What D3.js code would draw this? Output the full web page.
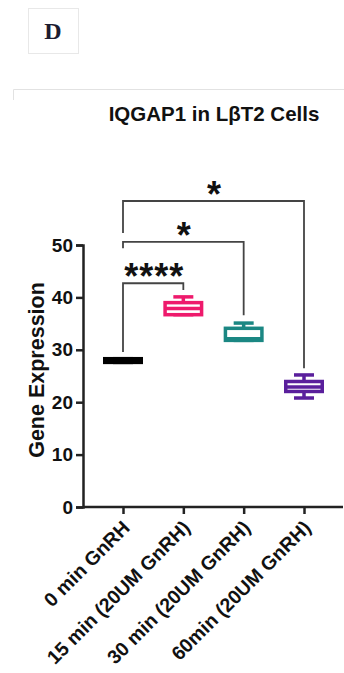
<!DOCTYPE html>
<html>
<head>
<meta charset="utf-8">
<script src="https://cdn.jsdelivr.net/npm/d3@7"></script>
<style>
  body { margin: 0; background: #fff; }
  svg { display: block; font-family: "Liberation Sans", Arial, sans-serif; }
</style>
</head>
<body>
<div id="chart"></div>
<script>
// data
const categories = ["0 min GnRH", "15 min (20UM GnRH)", "30 min (20UM GnRH)", "60min (20UM GnRH)"];
const whiskerLow = [27.6, 36.7, 31.8, 20.8];
const q1 = [27.6, 36.7, 31.8, 22.05];
const median = [28.0, 37.9, 32.1, 22.9];
const q3 = [28.3, 39.0, 34.1, 23.95];
const whiskerHigh = [28.3, 40.1, 35.1, 25.2];
const colors = ["#000000", "#ee1a6c", "#1b8783", "#5a1f9c"];
const yTicks = [0, 10, 20, 30, 40, 50];

// significance brackets (value units)
const comparisons = [[0, 1], [0, 2], [0, 3]];
const sigLabels = ["****", "*", "*"];
const bracketY = [42.7, 50.6, 58.4];
const leftLegEnd = [29.6, 49.4, 52.3];
const rightLegEnd = [41.4, 36.6, 26.5];

const width = 344, height = 673;
const svg = d3.select("#chart").append("svg")
    .attr("width", width)
    .attr("height", height);

// panel letter
svg.append("rect")
    .attr("x", 28.5).attr("y", 8.5).attr("width", 50).attr("height", 45)
    .attr("fill", "#fff").attr("stroke", "#e8e8e8");
svg.append("text")
    .attr("x", 53).attr("y", 39)
    .attr("text-anchor", "middle")
    .style("font-family", "'Liberation Serif', 'DejaVu Serif', serif")
    .style("font-weight", "bold")
    .style("font-size", "24px")
    .attr("fill", "#1c1c30")
    .text("D");

// panel frame line
svg.append("path")
    .attr("d", "M13.5,100V89.5H344")
    .attr("fill", "none").attr("stroke", "#e2e2e2");

const y = d3.scaleLinear().domain([0, 50]).range([507, 245]);
const x = d3.scalePoint().domain(categories).range([123, 304]);
const axisColor = "#222";

// title
svg.append("text")
    .attr("x", 214).attr("y", 121)
    .attr("text-anchor", "middle")
    .style("font-weight", "bold").style("font-size", "20.5px")
    .attr("fill", "#111")
    .text("IQGAP1 in LβT2 Cells");

// y axis
const yAxis = svg.append("g")
    .attr("transform", "translate(83,0)")
    .call(d3.axisLeft(y).tickValues(yTicks).tickSize(7).tickPadding(3));
yAxis.select(".domain").attr("stroke", axisColor).attr("stroke-width", 2.5);
yAxis.selectAll(".tick line").attr("stroke", axisColor).attr("stroke-width", 2.5);
yAxis.selectAll(".tick text")
    .style("font-family", "'Liberation Sans', Arial, sans-serif")
    .style("font-weight", "bold").style("font-size", "19px")
    .attr("fill", "#111");

svg.append("text")
    .attr("transform", "translate(44,370) rotate(-90)")
    .attr("text-anchor", "middle")
    .style("font-weight", "bold").style("font-size", "21.5px")
    .attr("fill", "#111")
    .text("Gene Expression");

// x axis
const xAxis = svg.append("g")
    .attr("transform", "translate(0,507)")
    .call(d3.axisBottom(x).tickSize(7).tickSizeOuter(0).tickFormat(""));
xAxis.select(".domain").attr("d", "M83,0H343").attr("stroke", axisColor).attr("stroke-width", 2.5);
xAxis.selectAll(".tick line").attr("stroke", axisColor).attr("stroke-width", 2.5);

svg.append("g").selectAll("text")
    .data(categories)
    .join("text")
    .attr("transform", d => `translate(${x(d) + 8},${507 + 22}) rotate(-45)`)
    .attr("text-anchor", "end")
    .style("font-weight", "bold").style("font-size", "19.5px")
    .attr("fill", "#111")
    .text(d => d);

// boxes
const boxW = 40, capW = 20, sw = 3.5;
const boxes = svg.append("g").selectAll("g")
    .data(categories)
    .join("g")
    .attr("transform", d => `translate(${x(d)},0)`);

boxes.append("line")
    .attr("y1", (d, i) => y(whiskerHigh[i])).attr("y2", (d, i) => y(q3[i]))
    .attr("stroke", (d, i) => colors[i]).attr("stroke-width", sw);
boxes.append("line")
    .attr("y1", (d, i) => y(whiskerLow[i])).attr("y2", (d, i) => y(q1[i]))
    .attr("stroke", (d, i) => colors[i]).attr("stroke-width", sw);
boxes.append("line")
    .attr("x1", -capW / 2).attr("x2", capW / 2)
    .attr("y1", (d, i) => y(whiskerHigh[i])).attr("y2", (d, i) => y(whiskerHigh[i]))
    .attr("stroke", (d, i) => colors[i]).attr("stroke-width", sw);
boxes.append("line")
    .attr("x1", -capW / 2).attr("x2", capW / 2)
    .attr("y1", (d, i) => y(whiskerLow[i])).attr("y2", (d, i) => y(whiskerLow[i]))
    .attr("stroke", (d, i) => colors[i]).attr("stroke-width", sw);
boxes.append("rect")
    .attr("x", -boxW / 2 + sw / 2).attr("width", boxW - sw)
    .attr("y", (d, i) => y(q3[i]))
    .attr("height", (d, i) => y(q1[i]) - y(q3[i]))
    .attr("fill", (d, i) => i === 0 ? colors[i] : "#fff")
    .attr("stroke", (d, i) => colors[i]).attr("stroke-width", sw);
boxes.append("line")
    .attr("x1", -boxW / 2 + sw / 2).attr("x2", boxW / 2 - sw / 2)
    .attr("y1", (d, i) => y(median[i])).attr("y2", (d, i) => y(median[i]))
    .attr("stroke", (d, i) => colors[i]).attr("stroke-width", sw);

// significance brackets
const sig = svg.append("g").selectAll("g")
    .data(comparisons)
    .join("g");
sig.append("path")
    .attr("d", (c, i) => {
        const x1 = x(categories[c[0]]), x2 = x(categories[c[1]]);
        return `M${x1},${y(leftLegEnd[i])}V${y(bracketY[i])}H${x2}V${y(rightLegEnd[i])}`;
    })
    .attr("fill", "none").attr("stroke", "#444").attr("stroke-width", 1.8);
sig.append("text")
    .attr("x", c => (x(categories[c[0]]) + x(categories[c[1]])) / 2 + 1)
    .attr("y", (c, i) => y(bracketY[i]) + 6)
    .attr("text-anchor", "middle")
    .style("font-weight", "bold").style("font-size", "36px")
    .style("letter-spacing", "1px")
    .attr("fill", "#111")
    .text((c, i) => sigLabels[i]);
</script>
</body>
</html>
